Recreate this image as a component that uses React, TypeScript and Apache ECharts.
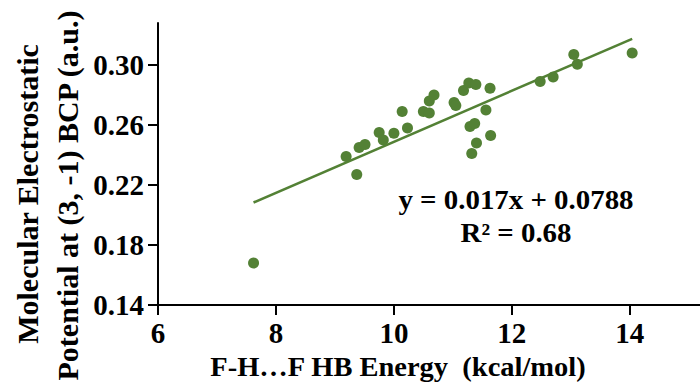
import React, { useEffect, useRef } from "react";
import * as echarts from "echarts";

const hbEnergy = [7.62, 9.19, 9.37, 9.41, 9.51, 9.75, 9.82, 10.0, 10.14, 10.23, 10.5, 10.6, 10.6, 10.68, 11.02, 11.05, 11.18, 11.27, 11.39, 11.63, 11.56, 11.29, 11.37, 11.4, 11.32, 11.64, 12.48, 12.7, 13.05, 13.11, 14.04];
const mep = [0.168, 0.239, 0.227, 0.245, 0.247, 0.255, 0.25, 0.2545, 0.269, 0.258, 0.269, 0.268, 0.276, 0.28, 0.275, 0.273, 0.283, 0.288, 0.287, 0.2845, 0.27, 0.259, 0.261, 0.248, 0.241, 0.253, 0.289, 0.292, 0.307, 0.3005, 0.308];
const slope = 0.017;
const intercept = 0.0788;
const xTicks = [6, 8, 10, 12, 14];
const yTicks = [0.14, 0.18, 0.22, 0.26, 0.3];
const equationText = "y = 0.017x + 0.0788";
const r2Text = "R² = 0.68";
const xTitle = "F-H…F HB Energy  (kcal/mol)";
const yTitle1 = "Molecular Electrostatic";
const yTitle2 = "Potential at (3, -1) BCP (a.u.)";

const GREEN = "#538135";
const FONT = "'Liberation Serif', 'Times New Roman', serif";

export default function App() {
  const ref = useRef<HTMLDivElement>(null);
  useEffect(() => {
    document.body.style.margin = "0";
    const chart = echarts.init(ref.current!, null, { renderer: "svg" });
    const xmin = Math.min(...hbEnergy);
    const xmax = Math.max(...hbEnergy);
    const txt = (text: string, size: number) => ({
      text,
      font: `bold ${size}px ${FONT}`,
      fill: "#000",
      textAlign: "center",
      textVerticalAlign: "middle",
    });
    chart.setOption({
      animation: false,
      grid: { left: 158, right: 0, top: 23, bottom: 78 },
      xAxis: {
        type: "value",
        min: 6,
        max: 15.19,
        splitLine: { show: false },
        axisLine: { lineStyle: { color: "#000", width: 2 } },
        axisTick: { customValues: xTicks, length: 10, lineStyle: { color: "#000", width: 2 } },
        axisLabel: {
          customValues: xTicks,
          margin: 13,
          color: "#000",
          fontFamily: FONT,
          fontWeight: "bold",
          fontSize: 29,
        },
      },
      yAxis: {
        type: "value",
        min: 0.14,
        max: 0.328,
        splitLine: { show: false },
        axisLine: { show: true, lineStyle: { color: "#000", width: 2 } },
        axisTick: { show: true, customValues: yTicks, length: 10, lineStyle: { color: "#000", width: 2 } },
        axisLabel: {
          customValues: yTicks,
          margin: 14,
          color: "#000",
          fontFamily: FONT,
          fontWeight: "bold",
          fontSize: 29,
          formatter: (v: number) => v.toFixed(2),
        },
      },
      series: [
        {
          type: "line",
          data: [
            [xmin, slope * xmin + intercept],
            [xmax, slope * xmax + intercept],
          ],
          symbol: "none",
          lineStyle: { color: GREEN, width: 2.5 },
          z: 1,
        },
        {
          type: "scatter",
          data: hbEnergy.map((x, i) => [x, mep[i]]),
          symbolSize: 11,
          itemStyle: { color: GREEN, opacity: 1 },
          z: 2,
        },
      ],
      graphic: [
        { type: "text", x: 516, y: 200, scaleX: 1.07, style: txt(equationText, 27) },
        { type: "text", x: 516, y: 233, scaleX: 1.07, style: txt(r2Text, 27) },
        { type: "text", x: 398, y: 367, scaleX: 1.075, style: txt(xTitle, 26.5) },
        { type: "text", x: 27, y: 194, rotation: Math.PI / 2, style: txt(yTitle1, 30) },
        { type: "text", x: 67, y: 195.5, rotation: Math.PI / 2, style: txt(yTitle2, 30) },
      ],
    });
    return () => chart.dispose();
  }, []);
  return <div ref={ref} style={{ width: 700, height: 383 }} />;
}
